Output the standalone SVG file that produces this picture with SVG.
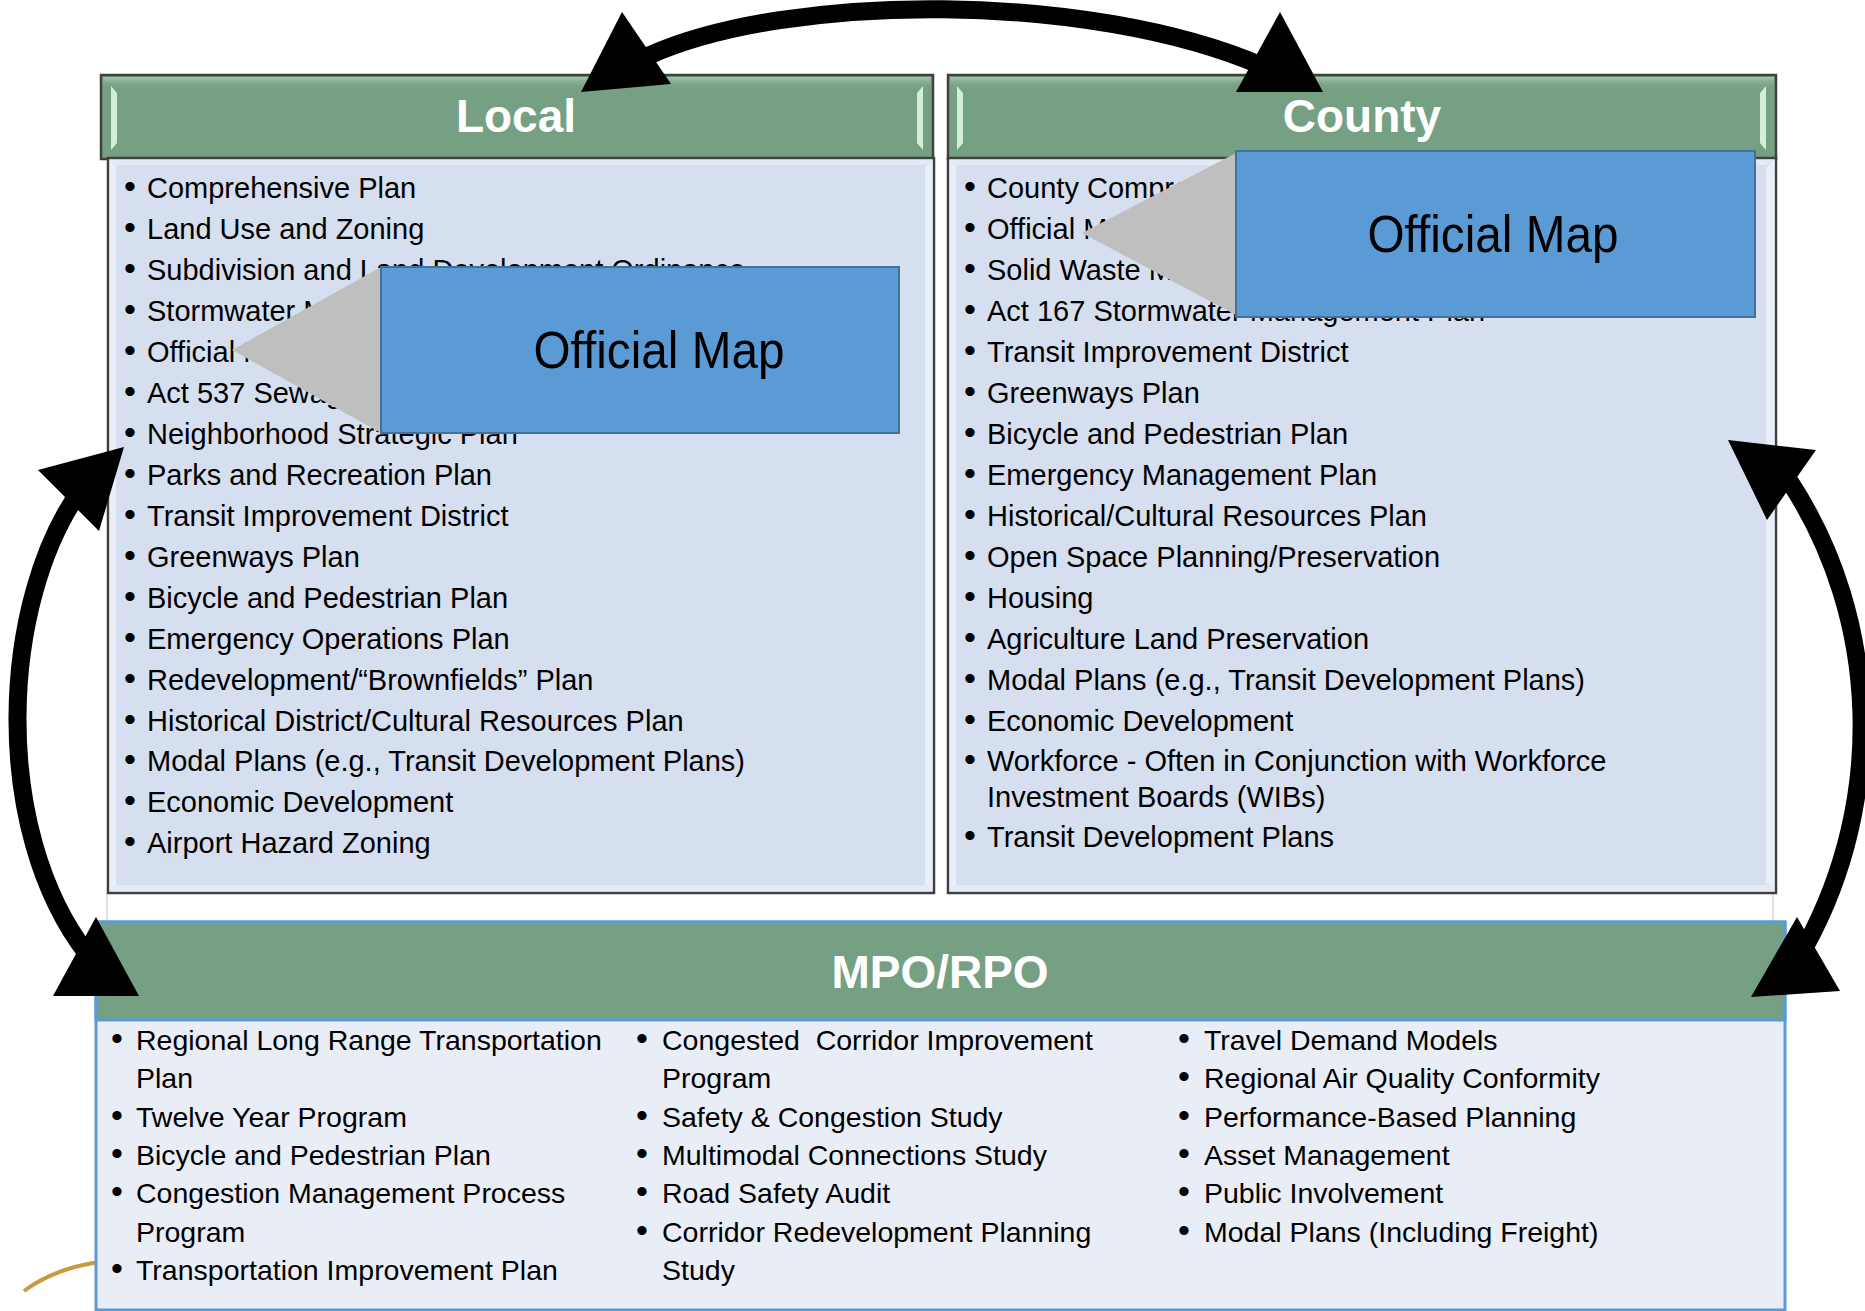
<svg xmlns="http://www.w3.org/2000/svg" width="1865" height="1311" viewBox="0 0 1865 1311">
<defs>
<style>
.hdr{fill:#76A083;stroke:#404040;stroke-width:2.5}
.body{fill:#D6DFEF;stroke:#404040;stroke-width:2.5}
.bev{fill:#E9EEF8}
.hl{fill:#D2EDD8}
.ttl{font-family:"Liberation Sans",Arial,sans-serif;font-weight:bold;font-size:46px;fill:#fff;text-anchor:middle}
.li{font-family:"Liberation Sans",Arial,sans-serif;font-size:29px;fill:#000}
.mi{font-family:"Liberation Sans",Arial,sans-serif;font-size:28.5px;fill:#000}
.b{font-size:34px}
.ombox{fill:#5B9BD5;stroke:#41719C;stroke-width:2}
.omtri{fill:#BFBFBF}
.omtxt{font-family:"Liberation Sans",Arial,sans-serif;font-size:52px;fill:#000;text-anchor:middle}
.arc{fill:none;stroke:#000;stroke-width:18}
.head{fill:#000}
.faint{stroke:#D9D9D9;stroke-width:1.5}
</style>
<linearGradient id="topglow" x1="0" y1="0" x2="0" y2="1">
<stop offset="0" stop-color="#A9C9B2" stop-opacity="0.9"/>
<stop offset="1" stop-color="#76A083" stop-opacity="0"/>
</linearGradient>
</defs>
<rect width="1865" height="1311" fill="#fff"/>

<path d="M24,1291 Q55,1268 100,1262" fill="none" stroke="#C8993E" stroke-width="4"/>
<line class="faint" x1="107" y1="893" x2="107" y2="922"/>
<line class="faint" x1="1773" y1="893" x2="1773" y2="922"/>

<g id="local">
<rect class="hdr" x="101" y="75" width="832" height="84"/>
<rect x="103" y="77" width="828" height="12" fill="url(#topglow)"/>
<path class="hl" d="M111,86 L117,93 L117,143 L111,150 Z"/>
<path class="hl" d="M923,86 L917,93 L917,143 L923,150 Z"/>
<text class="ttl" x="516" y="132">Local</text>
<rect class="body" x="108" y="158" width="826" height="735"/>
<path class="bev" d="M109.5,159.5 L116,166 L116,885 L109.5,891.5 Z"/>
<path class="bev" d="M932.5,159.5 L925,167 L925,884 L932.5,891.5 Z"/>
<path class="bev" d="M109.5,159.5 L932.5,159.5 L925,165 L116,165 Z" opacity="0.7"/>
<path class="bev" d="M109.5,891.5 L932.5,891.5 L925,885 L116,885 Z" opacity="0.8"/>
<text class="li" y="198"><tspan class="b" x="124">•</tspan><tspan x="147">Comprehensive Plan</tspan></text>
<text class="li" y="239"><tspan class="b" x="124">•</tspan><tspan x="147">Land Use and Zoning</tspan></text>
<text class="li" y="279.9"><tspan class="b" x="124">•</tspan><tspan x="147">Subdivision and Land Development Ordinance</tspan></text>
<text class="li" y="320.9"><tspan class="b" x="124">•</tspan><tspan x="147">Stormwater Management Plan</tspan></text>
<text class="li" y="361.8"><tspan class="b" x="124">•</tspan><tspan x="147">Official Map</tspan></text>
<text class="li" y="402.8"><tspan class="b" x="124">•</tspan><tspan x="147">Act 537 Sewage Facilities Plan</tspan></text>
<text class="li" y="443.8"><tspan class="b" x="124">•</tspan><tspan x="147">Neighborhood Strategic Plan</tspan></text>
<text class="li" y="484.7"><tspan class="b" x="124">•</tspan><tspan x="147">Parks and Recreation Plan</tspan></text>
<text class="li" y="525.7"><tspan class="b" x="124">•</tspan><tspan x="147">Transit Improvement District</tspan></text>
<text class="li" y="566.6"><tspan class="b" x="124">•</tspan><tspan x="147">Greenways Plan</tspan></text>
<text class="li" y="607.6"><tspan class="b" x="124">•</tspan><tspan x="147">Bicycle and Pedestrian Plan</tspan></text>
<text class="li" y="648.6"><tspan class="b" x="124">•</tspan><tspan x="147">Emergency Operations Plan</tspan></text>
<text class="li" y="689.5"><tspan class="b" x="124">•</tspan><tspan x="147">Redevelopment/“Brownfields” Plan</tspan></text>
<text class="li" y="730.5"><tspan class="b" x="124">•</tspan><tspan x="147">Historical District/Cultural Resources Plan</tspan></text>
<text class="li" y="771.4"><tspan class="b" x="124">•</tspan><tspan x="147">Modal Plans (e.g., Transit Development Plans)</tspan></text>
<text class="li" y="812.4"><tspan class="b" x="124">•</tspan><tspan x="147">Economic Development</tspan></text>
<text class="li" y="853.4"><tspan class="b" x="124">•</tspan><tspan x="147">Airport Hazard Zoning</tspan></text>
</g>

<g id="local-official-map">
<polygon class="omtri" points="232,350 381,267 381,433"/>
<rect class="ombox" x="381" y="267" width="518" height="166"/>
<text class="omtxt" x="659" y="368" textLength="251" lengthAdjust="spacingAndGlyphs">Official Map</text>
</g>

<g id="county">
<rect class="hdr" x="948" y="75" width="828" height="84"/>
<rect x="950" y="77" width="824" height="12" fill="url(#topglow)"/>
<path class="hl" d="M957,86 L963,93 L963,143 L957,150 Z"/>
<path class="hl" d="M1766,86 L1760,93 L1760,143 L1766,150 Z"/>
<text class="ttl" x="1362" y="132">County</text>
<rect class="body" x="948" y="158" width="828" height="735"/>
<path class="bev" d="M949.5,159.5 L956,166 L956,885 L949.5,891.5 Z"/>
<path class="bev" d="M1774.5,159.5 L1766,168 L1766,883 L1774.5,891.5 Z"/>
<path class="bev" d="M949.5,159.5 L1774.5,159.5 L1766,165 L956,165 Z" opacity="0.7"/>
<path class="bev" d="M949.5,891.5 L1774.5,891.5 L1766,885 L956,885 Z" opacity="0.8"/>
<text class="li" y="198"><tspan class="b" x="964">•</tspan><tspan x="987">County Comprehensive Plan</tspan></text>
<text class="li" y="239"><tspan class="b" x="964">•</tspan><tspan x="987">Official Map</tspan></text>
<text class="li" y="279.9"><tspan class="b" x="964">•</tspan><tspan x="987">Solid Waste Management Plan</tspan></text>
<text class="li" y="320.9"><tspan class="b" x="964">•</tspan><tspan x="987">Act 167 Stormwater Management Plan</tspan></text>
<text class="li" y="361.8"><tspan class="b" x="964">•</tspan><tspan x="987">Transit Improvement District</tspan></text>
<text class="li" y="402.8"><tspan class="b" x="964">•</tspan><tspan x="987">Greenways Plan</tspan></text>
<text class="li" y="443.8"><tspan class="b" x="964">•</tspan><tspan x="987">Bicycle and Pedestrian Plan</tspan></text>
<text class="li" y="484.7"><tspan class="b" x="964">•</tspan><tspan x="987">Emergency Management Plan</tspan></text>
<text class="li" y="525.7"><tspan class="b" x="964">•</tspan><tspan x="987">Historical/Cultural Resources Plan</tspan></text>
<text class="li" y="566.6"><tspan class="b" x="964">•</tspan><tspan x="987">Open Space Planning/Preservation</tspan></text>
<text class="li" y="607.6"><tspan class="b" x="964">•</tspan><tspan x="987">Housing</tspan></text>
<text class="li" y="648.6"><tspan class="b" x="964">•</tspan><tspan x="987">Agriculture Land Preservation</tspan></text>
<text class="li" y="689.5"><tspan class="b" x="964">•</tspan><tspan x="987">Modal Plans (e.g., Transit Development Plans)</tspan></text>
<text class="li" y="730.5"><tspan class="b" x="964">•</tspan><tspan x="987">Economic Development</tspan></text>
<text class="li" y="771.4"><tspan class="b" x="964">•</tspan><tspan x="987">Workforce - Often in Conjunction with Workforce</tspan></text>
<text class="li" x="987" y="806.5">Investment Boards (WIBs)</text>
<text class="li" y="847"><tspan class="b" x="964">•</tspan><tspan x="987">Transit Development Plans</tspan></text>
</g>

<g id="county-official-map">
<polygon class="omtri" points="1082,233 1236,153 1236,315"/>
<rect class="ombox" x="1236" y="151" width="519" height="166"/>
<text class="omtxt" x="1493" y="252" textLength="251" lengthAdjust="spacingAndGlyphs">Official Map</text>
</g>

<g id="mpo-rpo">
<rect x="96" y="922" width="1689" height="388" fill="#E9EDF6" stroke="#5B9BD5" stroke-width="3"/>
<rect x="96" y="922" width="1689" height="98" fill="#76A083" stroke="#5B9BD5" stroke-width="3"/>
<text class="ttl" x="940" y="988">MPO/RPO</text>
<text class="mi" y="1050"><tspan class="b" x="111">•</tspan><tspan x="136">Regional Long Range Transportation</tspan></text>
<text class="mi" x="136" y="1088.3">Plan</text>
<text class="mi" y="1126.6"><tspan class="b" x="111">•</tspan><tspan x="136">Twelve Year Program</tspan></text>
<text class="mi" y="1164.9"><tspan class="b" x="111">•</tspan><tspan x="136">Bicycle and Pedestrian Plan</tspan></text>
<text class="mi" y="1203.2"><tspan class="b" x="111">•</tspan><tspan x="136">Congestion Management Process</tspan></text>
<text class="mi" x="136" y="1241.5">Program</text>
<text class="mi" y="1279.8"><tspan class="b" x="111">•</tspan><tspan x="136">Transportation Improvement Plan</tspan></text>
<text class="mi" y="1050" xml:space="preserve"><tspan class="b" x="636">•</tspan><tspan x="662">Congested  Corridor Improvement</tspan></text>
<text class="mi" x="662" y="1088.3">Program</text>
<text class="mi" y="1126.6"><tspan class="b" x="636">•</tspan><tspan x="662">Safety &amp; Congestion Study</tspan></text>
<text class="mi" y="1164.9"><tspan class="b" x="636">•</tspan><tspan x="662">Multimodal Connections Study</tspan></text>
<text class="mi" y="1203.2"><tspan class="b" x="636">•</tspan><tspan x="662">Road Safety Audit</tspan></text>
<text class="mi" y="1241.5"><tspan class="b" x="636">•</tspan><tspan x="662">Corridor Redevelopment Planning</tspan></text>
<text class="mi" x="662" y="1279.8">Study</text>
<text class="mi" y="1050"><tspan class="b" x="1178">•</tspan><tspan x="1204">Travel Demand Models</tspan></text>
<text class="mi" y="1088.3"><tspan class="b" x="1178">•</tspan><tspan x="1204">Regional Air Quality Conformity</tspan></text>
<text class="mi" y="1126.6"><tspan class="b" x="1178">•</tspan><tspan x="1204">Performance-Based Planning</tspan></text>
<text class="mi" y="1164.9"><tspan class="b" x="1178">•</tspan><tspan x="1204">Asset Management</tspan></text>
<text class="mi" y="1203.2"><tspan class="b" x="1178">•</tspan><tspan x="1204">Public Involvement</tspan></text>
<text class="mi" y="1241.5"><tspan class="b" x="1178">•</tspan><tspan x="1204">Modal Plans (Including Freight)</tspan></text>
</g>

<g id="connectors">
<path class="arc" d="M648,56 C790,-8 1090,-8 1262,66"/>
<polygon class="head" points="622,12 581,92 671,84"/>
<polygon class="head" points="1280,12 1236,92 1323,92"/>
<path class="arc" d="M82,488 C0,600 -10,830 88,955"/>
<polygon class="head" points="124,447 38,470 99,531"/>
<polygon class="head" points="96,917 53,996 139,996"/>
<path class="arc" d="M1790,482 C1880,620 1885,800 1806,945"/>
<polygon class="head" points="1728,440 1816,450 1767,520"/>
<polygon class="head" points="1797,917 1751,997 1840,991"/>
</g>
</svg>
